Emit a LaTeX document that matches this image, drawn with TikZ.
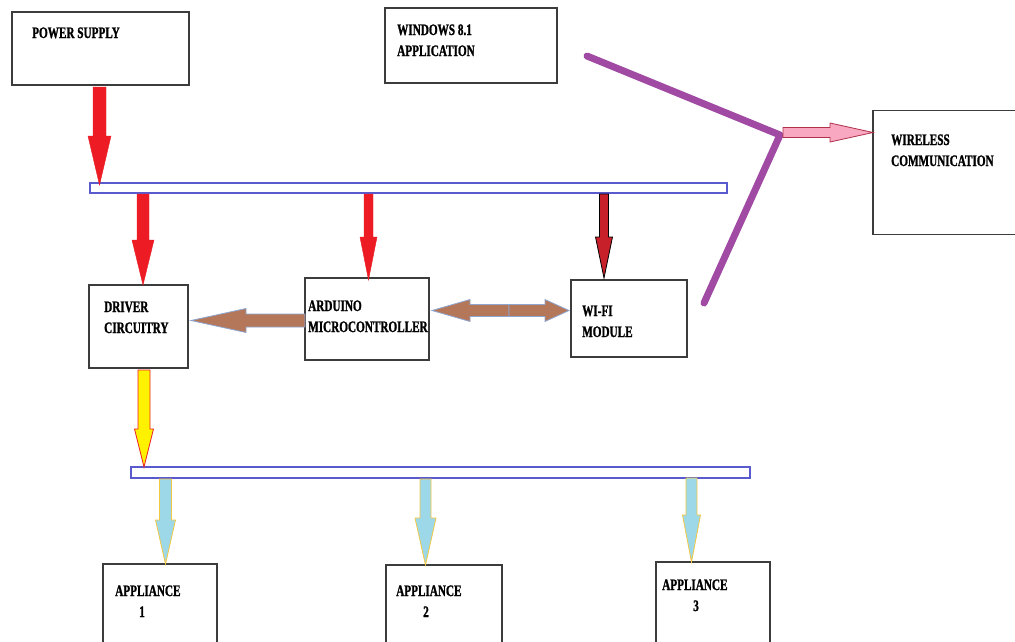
\documentclass[tikz,border=0pt]{standalone}
\usepackage{fontspec}
\newfontfamily\labfont{Liberation Serif}[FakeStretch=0.7, BoldFeatures={FakeBold=1.2}]
\definecolor{boxline}{HTML}{3C3C3C}
\definecolor{busline}{HTML}{5A5ACF}
\definecolor{pred}{HTML}{ED1C24}
\definecolor{dred}{HTML}{C8202A}
\definecolor{brownarr}{HTML}{B5775A}
\definecolor{brownedge}{HTML}{8EA6D0}
\definecolor{yel}{HTML}{FFF200}
\definecolor{lblue}{HTML}{9DD8E8}
\definecolor{gold}{HTML}{F2C843}
\definecolor{pinkf}{HTML}{F9A8C2}
\definecolor{pinkd}{HTML}{B0304A}
\definecolor{purp}{HTML}{A04AA4}
\tikzset{
  box/.style={draw=boxline, line width=1.2pt, fill=white, inner sep=0pt},
  bus/.style={draw=busline, line width=1.1pt, fill=white, inner sep=0pt},
  lab/.style={anchor=base west, inner sep=0pt, align=left,
     font=\labfont\bfseries\fontsize{16}{21}\selectfont},
  redarr/.style={fill=pred, draw=pred, line width=0.4pt},
  wifiarr/.style={fill=dred, draw=black, line width=0.8pt},
  brownar/.style={fill=brownarr, draw=brownedge, line width=0.8pt},
  yelarr/.style={fill=yel, draw=pred, line width=0.8pt},
  bluearr/.style={fill=lblue, draw=gold, line width=0.8pt},
  pinkarr/.style={fill=pinkf, draw=pinkd, line width=0.8pt},
  purpline/.style={draw=purp, line width=7pt, line cap=round, line join=round}
}
% vertical block arrow: style, x, y tail, y tip, shaft half width, head half width, head base y
\newcommand\vblk[7]{\draw[#1] (#2-#5,#3) -- (#2+#5,#3) -- (#2+#5,#7) -- (#2+#6,#7) -- (#2,#4) -- (#2-#6,#7) -- (#2-#5,#7) -- cycle;}
% horizontal block arrow: style, y, x tail, x tip, shaft half width, head half width, head base x
\newcommand\hblk[7]{\draw[#1] (#3,#2-#5) -- (#7,#2-#5) -- (#7,#2-#6) -- (#4,#2) -- (#7,#2+#6) -- (#7,#2+#5) -- (#3,#2+#5) -- cycle;}
\begin{document}
\begin{tikzpicture}[x=1pt,y=-1pt]
\useasboundingbox (0,0) rectangle (1015,641);
\clip (0,0) rectangle (1015,641);
\fill[white] (0,0) rectangle (1015,641);

% boxes
\node[box, minimum width=177pt, minimum height=73pt] (power) at (100.5,48.5) {};
\node[box, minimum width=172pt, minimum height=75pt] (win) at (471,45.5) {};
\node[box, minimum width=150pt, minimum height=124pt] (wire) at (948,172.5) {};
\node[box, minimum width=99pt, minimum height=83pt] (driver) at (138.5,326.5) {};
\node[box, minimum width=124pt, minimum height=82pt] (ard) at (367,319) {};
\node[box, minimum width=116pt, minimum height=77pt] (wifi) at (629,318.5) {};
\node[box, minimum width=114pt, minimum height=90pt] (app1) at (160,609) {};
\node[box, minimum width=116pt, minimum height=90pt] (app2) at (444,610) {};
\node[box, minimum width=114pt, minimum height=90pt] (app3) at (713,607) {};

% buses
\node[bus, minimum width=637pt, minimum height=10pt] (bus1) at (408.5,188) {};
\node[bus, minimum width=619pt, minimum height=11pt] (bus2) at (440.5,472.5) {};

% labels (anchored at the baseline of their last line)
\node[lab] (tpower) at (32,38) {POWER SUPPLY};
\node[lab] (twin) at (397,56) {WINDOWS 8.1\\APPLICATION};
\node[lab] (twire) at (891,166) {WIRELESS\\COMMUNICATION};
\node[lab] (tdriver) at (104,333) {DRIVER\\CIRCUITRY};
\node[lab] (tard) at (308,332) {ARDUINO\\MICROCONTROLLER};
\node[lab] (twifi) at (582,337) {WI-FI\\MODULE};
\node[lab] (tapp1) at (115,617) {APPLIANCE\\\hspace*{24pt}1};
\node[lab] (tapp2) at (396,617) {APPLIANCE\\\hspace*{27pt}2};
\node[lab] (tapp3) at (662,611) {APPLIANCE\\\hspace*{31pt}3};

% power arrows
\vblk{redarr}{99.5}{87}{185}{6.5}{11.5}{136}
\vblk{redarr}{143}{194}{285}{6}{11}{240}
\vblk{redarr}{368.5}{194}{280}{4.5}{8.5}{237}
\vblk{wifiarr}{604}{194}{278}{4.5}{8.5}{237}

% arduino <-> driver / wifi
\hblk{brownar}{320.5}{305}{191}{6.5}{12}{246}
\hblk{brownar}{310.5}{509}{432}{6}{11}{470}
\hblk{brownar}{310.5}{509}{569}{6}{11}{545}

% wireless link
\draw[purpline] (587,56) -- (780,135) -- (704,303);
\hblk{pinkarr}{132.5}{783}{873}{5}{9.5}{830}

% driver -> appliance bus
\vblk{yelarr}{144}{370}{467}{6}{9.5}{429}

% appliance arrows
\vblk{bluearr}{165.5}{479}{564}{6}{10}{520}
\vblk{bluearr}{425.5}{479}{565}{5.5}{10.5}{518}
\vblk{bluearr}{691.5}{478}{562}{5.5}{9}{515}
\end{tikzpicture}
\end{document}
